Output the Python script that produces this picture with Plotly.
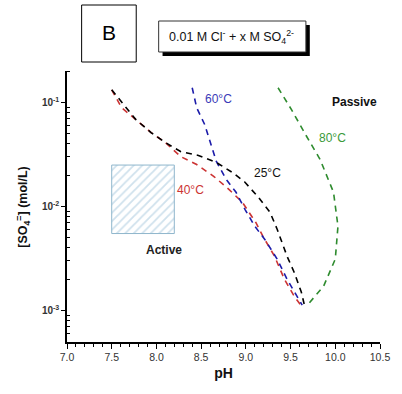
import plotly.graph_objects as go

# Passivation boundaries: pH vs sulfate concentration (mol/L)
ph_25 = [7.50, 7.77, 7.94, 8.10, 8.27, 8.47, 8.67, 8.85, 8.99, 9.14, 9.27, 9.35, 9.46, 9.54, 9.62, 9.66]
so4_25 = [0.132, 0.0683, 0.0513, 0.0411, 0.0337, 0.0309, 0.0265, 0.0212, 0.0171, 0.01225, 0.00879, 0.00605, 0.00334, 0.00234, 0.00151, 0.00108]

ph_40 = [7.50, 7.61, 7.77, 7.94, 8.10, 8.27, 8.45, 8.64, 8.81, 8.96, 9.11, 9.19, 9.32, 9.43, 9.54, 9.62]
so4_40 = [0.132, 0.0889, 0.0683, 0.0513, 0.0411, 0.0302, 0.0253, 0.0195, 0.0146, 0.0110, 0.00706, 0.00519, 0.00334, 0.00201, 0.00138, 0.00111]

ph_60 = [8.40, 8.45, 8.54, 8.61, 8.67, 8.78, 8.89, 8.99, 9.10, 9.21, 9.35, 9.46, 9.57, 9.63]
so4_60 = [0.138, 0.0889, 0.0612, 0.0394, 0.0271, 0.0182, 0.0137, 0.0094, 0.00646, 0.00485, 0.00313, 0.00201, 0.00138, 0.00113]

ph_80 = [9.36, 9.51, 9.68, 9.83, 9.98, 10.03, 10.00, 9.87, 9.68]
so4_80 = [0.138, 0.0851, 0.0470, 0.0283, 0.0137, 0.00646, 0.00313, 0.00172, 0.00111]

# Active region box
active_ph = [7.5, 8.2]
active_so4 = [0.0055, 0.025]

x_ticks = [7.0, 7.5, 8.0, 8.5, 9.0, 9.5, 10.0, 10.5]
y_ticks = [1e-3, 1e-2, 1e-1]
y_tick_text = ["<b>10<sup>-3</sup></b>", "<b>10<sup>-2</sup></b>", "<b>10<sup>-1</sup></b>"]

FONT = "Liberation Sans, Arial, sans-serif"
DASH = "6px,5px"

fig = go.Figure()

# hatched active region
fig.add_trace(go.Scatter(
    x=[active_ph[0], active_ph[1], active_ph[1], active_ph[0], active_ph[0]],
    y=[active_so4[0], active_so4[0], active_so4[1], active_so4[1], active_so4[0]],
    mode="lines", fill="toself", fillcolor="rgba(0,0,0,0)",
    fillpattern=dict(shape="/", fgcolor="#9fc3da", bgcolor="white", size=6, solidity=0.3),
    line=dict(color="#8fb6cc", width=1), hoverinfo="skip", showlegend=False,
))

curves = [
    (ph_40, so4_40, "#cc3333"),
    (ph_60, so4_60, "#1c1caa"),
    (ph_25, so4_25, "#000000"),
    (ph_80, so4_80, "#2e8b2e"),
]
for xs, ys, col in curves:
    fig.add_trace(go.Scatter(x=xs, y=ys, mode="lines",
                             line=dict(color=col, width=1.6, dash=DASH),
                             showlegend=False))

labels = [
    ("60°C", 8.69, -0.965, "#3a3ab8", False),
    ("40°C", 8.38, -1.845, "#cc3333", False),
    ("25°C", 9.245, -1.682, "#111111", False),
    ("80°C", 9.974, -1.338, "#3a9a3a", False),
    ("Passive", 10.21, -0.993, "#111111", True),
    ("Active", 8.08, -2.42, "#222222", True),
]
annotations = []
for txt, x, y, col, bold in labels:
    annotations.append(dict(
        text=f"<b>{txt}</b>" if bold else txt, x=x, y=y, xref="x", yref="y",
        xanchor="center", yanchor="middle",
        showarrow=False, font=dict(family=FONT, size=12, color=col),
    ))

# axis title for the concentration axis
annotations.append(dict(
    text="<b>[SO<sub>4</sub><sup>=</sup>] (mol/L)</b>", x=-0.143, y=0.5,
    xref="paper", yref="paper", xanchor="center", yanchor="middle",
    textangle=-90, showarrow=False,
    font=dict(family=FONT, size=12.5, color="#111111"),
))

# panel letter and condition box
def px(x):
    return (x - 67) / 321.0

def py(y):
    return (342 - y) / 271.0

annotations.append(dict(text="B", x=px(110), y=py(33), xref="paper", yref="paper",
                        xanchor="center", yanchor="middle",
                        showarrow=False, font=dict(family=FONT, size=21, color="#000000")))
annotations.append(dict(text="0.01 M Cl<sup>-</sup> + x M SO<sub>4</sub><sup>2-</sup>",
                        x=px(236), y=py(37), xref="paper", yref="paper",
                        xanchor="center", yanchor="middle",
                        showarrow=False, font=dict(family=FONT, size=12.5, color="#111111")))

shapes = [
    dict(type="rect", xref="paper", yref="paper", x0=px(82), x1=px(138), y0=py(62), y1=py(5),
         line=dict(color="#000000", width=1), fillcolor="white", layer="below"),
    dict(type="rect", xref="paper", yref="paper", x0=px(165), x1=px(316), y0=py(56), y1=py(25),
         line=dict(color="#000000", width=0), fillcolor="#000000", layer="below"),
    dict(type="rect", xref="paper", yref="paper", x0=px(161), x1=px(312), y0=py(52), y1=py(21),
         line=dict(color="#333333", width=1), fillcolor="white", layer="below"),
]

fig.update_layout(
    width=402, height=394,
    margin=dict(l=67, r=14, t=71, b=52),
    paper_bgcolor="white", plot_bgcolor="white",
    font=dict(family=FONT, color="#222222"),
    annotations=annotations, shapes=shapes,
    xaxis=dict(
        range=[7.0, 10.5], tickvals=x_ticks, ticktext=[f"{v:.1f}" for v in x_ticks],
        showgrid=False, zeroline=False, showline=True, linecolor="#000000", linewidth=1.5,
        ticks="outside", ticklen=5, tickcolor="#000000", tickwidth=1.2,
        minor=dict(dtick=0.1, ticks="outside", ticklen=3, tickcolor="#000000", tickwidth=1, showgrid=False),
        tickfont=dict(family=FONT, size=10.5, color="#333333"),
        title=dict(text="<b>pH</b>", font=dict(family=FONT, size=14, color="#111111"), standoff=6),
    ),
    yaxis=dict(
        type="log", range=[-3.301, -0.699], tickvals=y_ticks, ticktext=y_tick_text,
        showgrid=False, zeroline=False, showline=True, linecolor="#000000", linewidth=1.5,
        ticks="outside", ticklen=4, tickcolor="#000000", tickwidth=1.2,
        minor=dict(ticks="inside", ticklen=3, tickcolor="#000000", tickwidth=1, showgrid=False,
                   tickvals=[m * 10.0 ** e for e in (-4, -3, -2, -1) for m in range(2, 10)]),
        tickfont=dict(family=FONT, size=10, color="#333333"),
    ),
)

fig.write_html("out.html")
